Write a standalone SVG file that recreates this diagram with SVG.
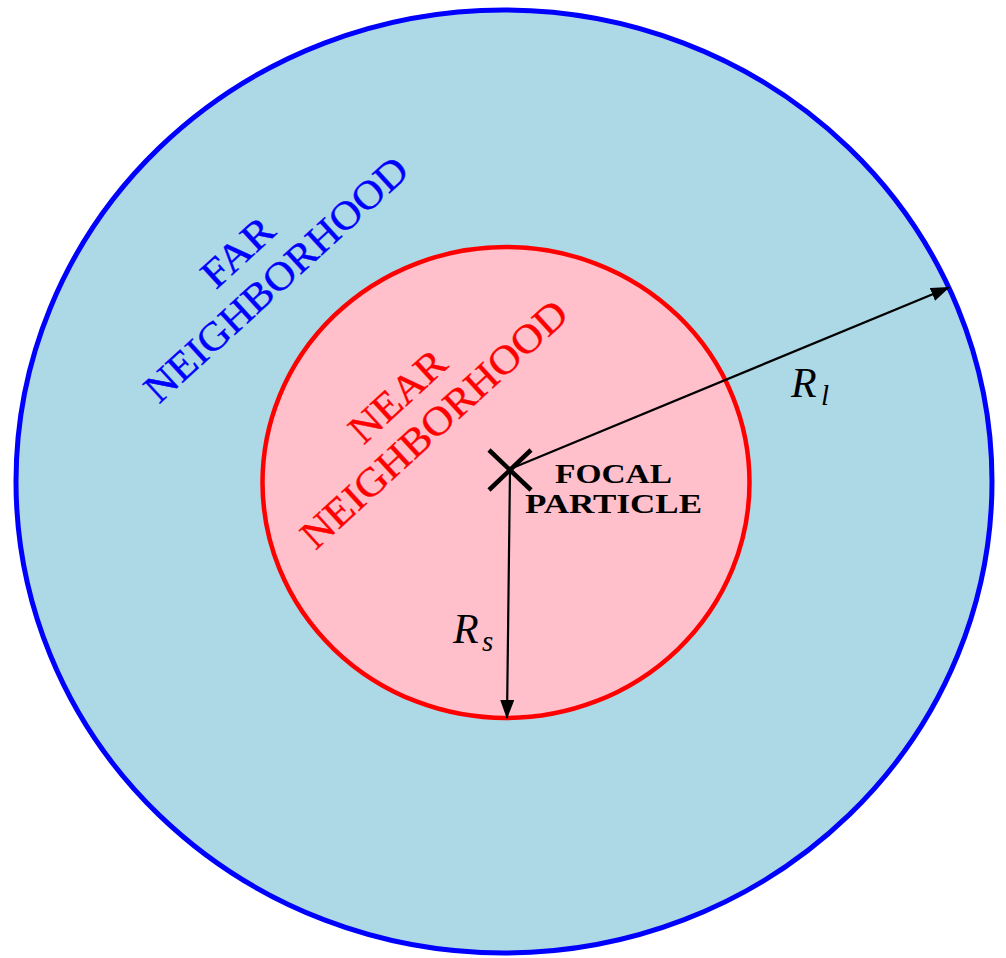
<svg xmlns="http://www.w3.org/2000/svg" width="1006" height="958" viewBox="0 0 1006 958">
<style>
.lbl{font-family:"Liberation Serif","DejaVu Serif",serif;}
.rot{font-size:40px;text-anchor:middle;stroke-width:0.4;}
.math{font-family:"Liberation Serif","DejaVu Serif",serif;font-style:italic;fill:#000;}
.conn{stroke:#000;stroke-width:2.2;fill:none;}
</style>
<defs>
<marker id="ah" viewBox="0 0 19 14" refX="18" refY="7" markerWidth="19" markerHeight="14" markerUnits="userSpaceOnUse" orient="auto">
<path d="M0,0 L19,7 L0,14 z" fill="#000"/>
</marker>
</defs>
<rect width="1006" height="958" fill="#fff"/>
<g id="far">
<ellipse cx="504" cy="481.5" rx="488" ry="471.5" fill="#ADD8E6" stroke="#0000FF" stroke-width="5"/>
<g transform="translate(246.6,262) rotate(-42.5)"><text class="lbl rot" fill="#0000FF" stroke="#0000FF" x="0" y="0" textLength="84" lengthAdjust="spacingAndGlyphs">FAR</text></g>
<g transform="translate(285,289) rotate(-42.5)"><text class="lbl rot" fill="#0000FF" stroke="#0000FF" x="0" y="0" textLength="342" lengthAdjust="spacingAndGlyphs">NEIGHBORHOOD</text></g>
</g>
<g id="near">
<ellipse cx="506" cy="482.5" rx="243.5" ry="235.5" fill="#FFC0CB" stroke="#FF0000" stroke-width="4.5"/>
<g transform="translate(406.6,406) rotate(-42.5)"><text class="lbl rot" fill="#FF0000" stroke="#FF0000" x="0" y="0" textLength="117" lengthAdjust="spacingAndGlyphs">NEAR</text></g>
<g transform="translate(443,434) rotate(-42.5)"><text class="lbl rot" fill="#FF0000" stroke="#FF0000" x="0" y="0" textLength="346" lengthAdjust="spacingAndGlyphs">NEIGHBORHOOD</text></g>
</g>
<g id="connectors">
<line class="conn" x1="510" y1="469" x2="949" y2="287.5" marker-end="url(#ah)"/>
<line class="conn" x1="510" y1="470" x2="507" y2="718" marker-end="url(#ah)"/>
</g>
<g id="focal">
<line x1="489" y1="450" x2="531" y2="490" stroke="#000" stroke-width="4.5"/>
<line x1="489" y1="490" x2="531" y2="450" stroke="#000" stroke-width="4.5"/>
<text class="lbl" x="613.5" y="483" font-size="28" font-weight="bold" text-anchor="middle" textLength="117" lengthAdjust="spacingAndGlyphs">FOCAL</text>
<text class="lbl" x="613.5" y="513" font-size="28" font-weight="bold" text-anchor="middle" textLength="177" lengthAdjust="spacingAndGlyphs">PARTICLE</text>
</g>
<g id="labels">
<text class="math" x="791" y="397" font-size="42">R</text>
<text class="math" x="821" y="405" font-size="29">l</text>
<text class="math" x="453" y="643" font-size="42">R</text>
<text class="math" x="482" y="651" font-size="29">s</text>
</g>
</svg>
